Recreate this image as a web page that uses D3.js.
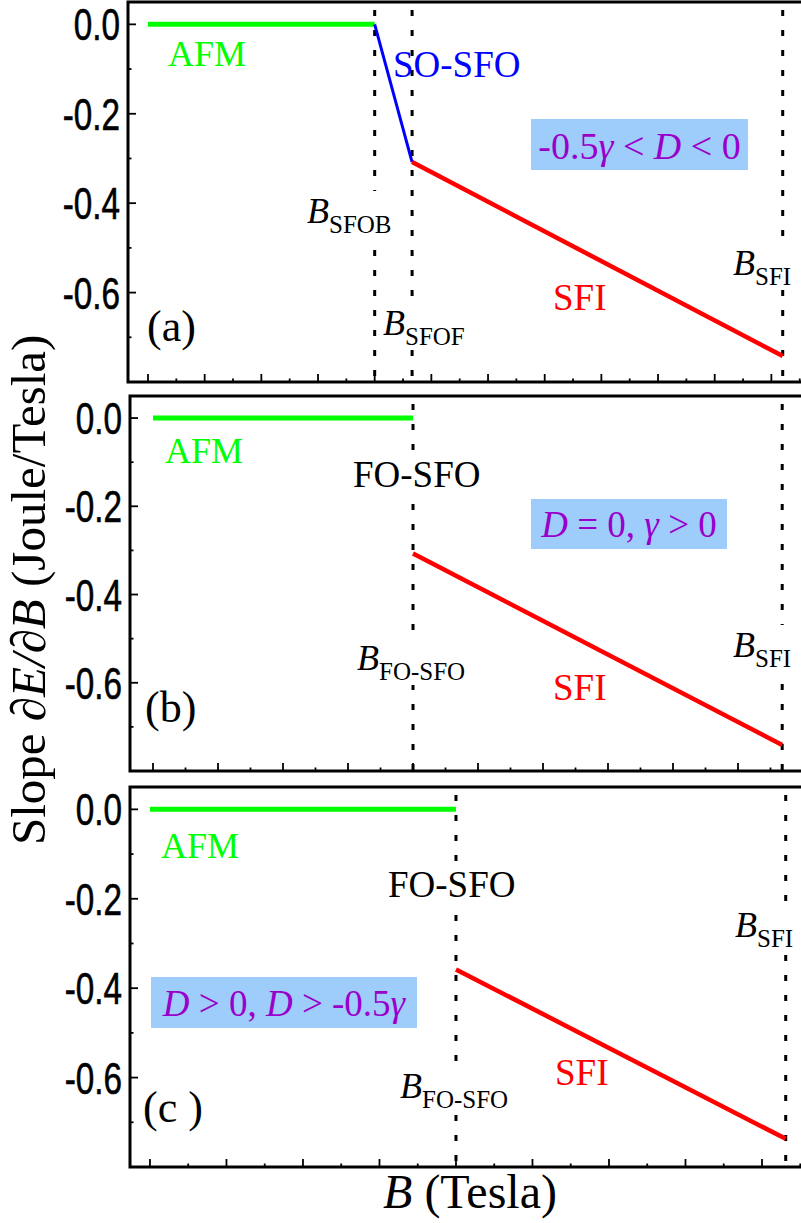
<!DOCTYPE html>
<html><head><meta charset="utf-8">
<script src="https://cdn.jsdelivr.net/npm/d3@7"></script>
<style>body{margin:0;background:#fff}svg{display:block}</style>
</head><body>
<script>
// ---------------- data ----------------
const panelNames = ["(a)", "(b)", "(c )"];
const yTickValues = [0, -0.2, -0.4, -0.6];
const yTickLabels = ["0.0", "-0.2", "-0.4", "-0.6"];
const yMinorTicks = [-0.1, -0.3, -0.5, -0.7];
// B in units of the (unlabelled) major x-tick spacing
const afmA = [[0, 0], [4.0, 0]];
const soSfoA = [[4.0, 0], [4.66, -0.308]];
const sfiA = [[4.66, -0.308], [11.2, -0.742]];
const criticalA = [4.0, 4.66, 11.2];
const afmB = [[0, 0], [4.0, 0]];
const sfiB = [[4.0, -0.307], [9.68, -0.741]];
const criticalB = [4.0, 9.68];
const afmC = [[0, 0], [4.0, 0]];
const sfiC = [[4.0, -0.358], [8.31, -0.737]];
const criticalC = [4.0, 8.31];
const conditionTexts = [
  [{t: "-0.5"}, {t: "γ", i: 1}, {t: " < "}, {t: "D", i: 1}, {t: " < 0"}],
  [{t: "D", i: 1}, {t: " = 0, "}, {t: "γ", i: 1}, {t: " > 0"}],
  [{t: "D", i: 1}, {t: " > 0, "}, {t: "D", i: 1}, {t: " > -0.5"}, {t: "γ", i: 1}]
];

// ---------------- layout / style ----------------
const GREEN = "#00ff00", RED = "#ff0000", BLUE = "#0000ff", PURPLE = "#9900cc", BOX = "#9fcdfb";
const SERIF = "'Liberation Serif','Times New Roman',serif";
const SANS = "'Liberation Sans',Arial,sans-serif";
const yDomain = [0.05, -0.8];

const panels = [
  { left: 128, top: 2, bottom: 382, xDomain: [-0.353, 11.558], afm: afmA, so: soSfoA, sfi: sfiA, crit: criticalA,
    box: {dx: 403, dy: 117, w: 217, h: 51, base: 157, size: 38},
    labels: [
      {parts: [{t: "AFM"}], color: GREEN, dx: 40, dy: 64},
      {parts: [{t: "SO-SFO"}], color: BLUE, dx: 265, dy: 75, size: 37},
      {parts: [{t: "B", i: 1}, {t: "SFOB", sub: 1}], dx: 179, dy: 221, bg: 1},
      {parts: [{t: "B", i: 1}, {t: "SFOF", sub: 1}], dx: 255, dy: 333, bg: 1},
      {parts: [{t: "SFI"}], color: RED, dx: 425, dy: 308, size: 37},
      {parts: [{t: "B", i: 1}, {t: "SFI", sub: 1}], dx: 605, dy: 273, bg: 1},
      {parts: [{t: panelNames[0]}], dx: 19, dy: 339, size: 44}
    ]},
  { left: 130, top: 396, bottom: 771, xDomain: [-0.354, 10.0], afm: afmB, so: null, sfi: sfiB, crit: criticalB,
    box: {dx: 401, dy: 103, w: 196, h: 50, base: 141, size: 37},
    labels: [
      {parts: [{t: "AFM"}], color: GREEN, dx: 35, dy: 67},
      {parts: [{t: "FO-SFO"}], dx: 223, dy: 91, bg: 1, size: 37},
      {parts: [{t: "B", i: 1}, {t: "FO-SFO", sub: 1}], dx: 227, dy: 274, bg: 1},
      {parts: [{t: "SFI"}], color: RED, dx: 423, dy: 304, size: 37},
      {parts: [{t: "B", i: 1}, {t: "SFI", sub: 1}], dx: 603, dy: 261, bg: 1},
      {parts: [{t: panelNames[1]}], dx: 15, dy: 326, size: 44}
    ]},
  { left: 130, top: 787, bottom: 1167, xDomain: [-0.261, 8.536], afm: afmC, so: null, sfi: sfiC, crit: criticalC,
    box: {dx: 21, dy: 190, w: 266, h: 51, base: 229, size: 37},
    labels: [
      {parts: [{t: "AFM"}], color: GREEN, dx: 31, dy: 71},
      {parts: [{t: "FO-SFO"}], dx: 258, dy: 110, bg: 1, size: 37},
      {parts: [{t: "B", i: 1}, {t: "FO-SFO", sub: 1}], dx: 270, dy: 311, bg: 1},
      {parts: [{t: "SFI"}], color: RED, dx: 425, dy: 298, size: 37},
      {parts: [{t: "B", i: 1}, {t: "SFI", sub: 1}], dx: 605, dy: 150, bg: 1},
      {parts: [{t: panelNames[2]}], dx: 13, dy: 335, size: 44}
    ]}
];
const RIGHT = 803;

const svg = d3.select("body").append("svg").attr("width", 801).attr("height", 1223)
  .style("font-family", SERIF);

function writeParts(text, parts) {
  parts.forEach(p => {
    const ts = text.append("tspan").text(p.t);
    if (p.i) ts.attr("font-style", "italic");
    if (p.sub) ts.attr("font-size", 25).attr("dy", 10);
  });
}

panels.forEach((P, k) => {
  const x = d3.scaleLinear().domain(P.xDomain).range([P.left, RIGHT]);
  const y = d3.scaleLinear().domain(yDomain).range([P.top, P.bottom]);
  const g = svg.append("g");

  // x ticks (inward, bottom)
  const xt = d3.range(0, P.xDomain[1], 0.5);
  g.selectAll(".xt").data(xt).join("line")
    .attr("x1", d => x(d)).attr("x2", d => x(d))
    .attr("y1", P.bottom).attr("y2", d => P.bottom - (Number.isInteger(d) ? 8 : 3.5))
    .attr("stroke", "#000").attr("stroke-width", 1.8);
  // y ticks
  g.selectAll(".yt").data(yTickValues.concat(yMinorTicks)).join("line")
    .attr("y1", d => y(d)).attr("y2", d => y(d))
    .attr("x1", P.left).attr("x2", d => P.left + (yTickValues.includes(d) ? 8 : 3.5))
    .attr("stroke", "#000").attr("stroke-width", 1.8);
  yTickValues.forEach((v, i) => {
    g.append("text").attr("transform", `translate(${P.left - 8},${y(v) + 16}) scale(0.74,1)`)
      .attr("text-anchor", "end").attr("font-family", SANS).attr("font-size", 45)
      .attr("stroke", "#000").attr("stroke-width", 0.6)
      .text(yTickLabels[i]);
  });

  // critical-field dotted lines
  g.selectAll(".crit").data(P.crit).join("line")
    .attr("x1", d => x(d)).attr("x2", d => x(d))
    .attr("y1", P.top).attr("y2", P.bottom)
    .attr("stroke", "#000").attr("stroke-width", 3)
    .attr("stroke-dasharray", "6 14").attr("stroke-dashoffset", 12);

  // condition box
  const B = P.box;
  g.append("rect").attr("x", P.left + B.dx).attr("y", P.top + B.dy).attr("width", B.w).attr("height", B.h)
    .attr("fill", BOX);
  const bt = g.append("text").attr("x", P.left + B.dx + B.w / 2).attr("y", P.top + B.base)
    .attr("text-anchor", "middle").attr("font-size", B.size).attr("fill", PURPLE)
    .style("white-space", "pre");
  writeParts(bt, conditionTexts[k]);

  // labels
  P.labels.forEach(L => {
    const t = g.append("text").attr("x", P.left + L.dx).attr("y", P.top + L.dy)
      .attr("font-size", L.size || 36).attr("fill", L.color || "#000");
    writeParts(t, L.parts);
    if (L.bg) {
      const bb = t.node().getBBox();
      g.insert("rect", () => t.node()).attr("x", bb.x - 2).attr("y", bb.y)
        .attr("width", bb.width + 4).attr("height", bb.height).attr("fill", "#fff");
    }
  });

  // data lines
  const line = d3.line().x(d => x(d[0])).y(d => y(d[1]));
  g.append("path").attr("d", line(P.afm)).attr("fill", "none").attr("stroke", GREEN).attr("stroke-width", 5);
  if (P.so) g.append("path").attr("d", line(P.so)).attr("fill", "none").attr("stroke", BLUE).attr("stroke-width", 3);
  g.append("path").attr("d", line(P.sfi)).attr("fill", "none").attr("stroke", RED).attr("stroke-width", 4.5);

  // frame
  g.append("rect").attr("x", P.left).attr("y", P.top).attr("width", RIGHT - P.left).attr("height", P.bottom - P.top)
    .attr("fill", "none").attr("stroke", "#000").attr("stroke-width", 3);
});

// axis titles
const yt = svg.append("text").attr("transform", "translate(45,845) rotate(-90)")
  .attr("font-size", 49).style("white-space", "pre");
writeParts(yt, [{t: "Slope "}, {t: "∂E/∂B", i: 1}, {t: " (Joule/Tesla)"}]);
const xtit = svg.append("text").attr("x", 470).attr("y", 1208).attr("text-anchor", "middle")
  .attr("font-size", 48).style("white-space", "pre");
writeParts(xtit, [{t: "B", i: 1}, {t: " (Tesla)"}]);
</script>
</body></html>
